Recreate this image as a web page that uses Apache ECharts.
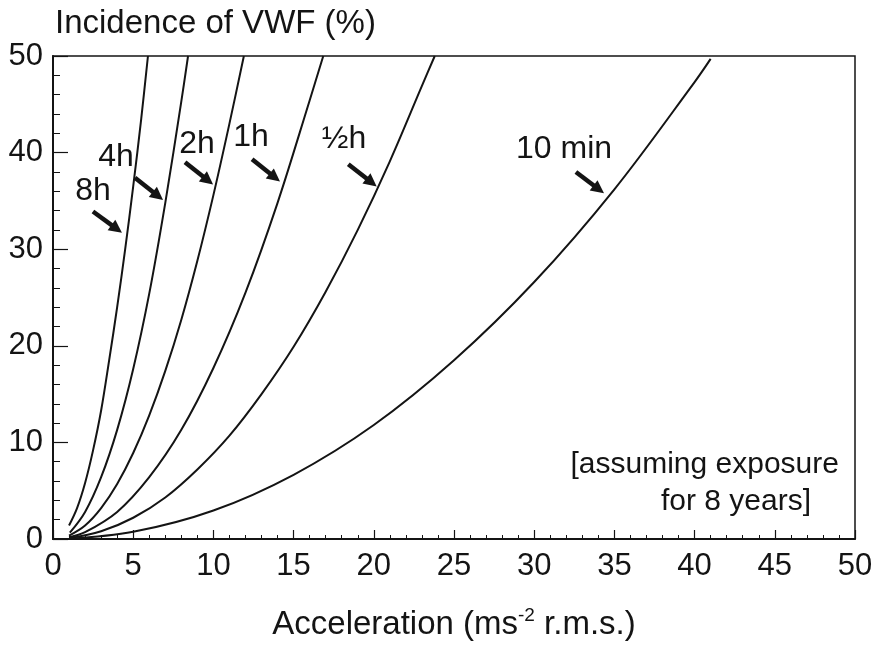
<!DOCTYPE html>
<html>
<head>
<meta charset="utf-8">
<script src="https://cdn.jsdelivr.net/npm/echarts@6/dist/echarts.min.js"></script>
<style>
  html, body { margin: 0; padding: 0; background: #ffffff; }
  #chart { width: 881px; height: 650px; }
</style>
</head>
<body>
<div id="chart"></div>
<script>
// Incidence of vibration white finger vs. frequency-weighted acceleration,
// one curve per daily exposure time (8 years of exposure).
const curveNames = ['8h', '4h', '2h', '1h', '½h', '10 min'];

const accel8h = [1, 1.5, 2, 2.5, 3, 3.5, 4, 4.5, 5, 5.5, 5.92];
const vwf8h   = [1.4, 3.2, 5.8, 9.2, 13.3, 18.5, 24, 30, 36.5, 43.5, 50];

const accel4h = [1.05, 2, 3, 4, 5, 6, 7, 8, 8.42];
const vwf4h   = [0.65, 2.8, 6.4, 11.3, 17.6, 25.4, 34.8, 45.3, 50];

const accel2h = [1, 2, 3, 4, 5, 6, 7, 8, 9, 10, 11, 11.9];
const vwf2h   = [0.35, 1.4, 3.2, 5.7, 8.9, 12.8, 17.4, 22.7, 28.8, 35.6, 43, 50];

const accel1h = [1, 2, 4, 6, 8, 10, 12, 14, 16, 16.85];
const vwf1h   = [0.18, 0.7, 2.8, 6.4, 11.3, 17.7, 25.5, 34.8, 45.4, 50];

const accelHalfH = [1, 3, 5, 7, 9, 11, 13, 15, 17, 19, 21, 23, 23.8];
const vwfHalfH   = [0.09, 0.8, 2.2, 4.3, 7.2, 10.7, 15, 19.9, 25.6, 32, 39.1, 46.9, 50];

const accel10min = [1, 5, 10, 15, 20, 25, 30, 35, 40, 41];
const vwf10min   = [0.03, 0.74, 2.95, 6.65, 11.8, 18.5, 26.6, 36.2, 47.3, 49.7];

// Curve label anchors (label centre) and arrow tail/tip, in axis units.
const labelAt   = [[2.49, 36.0], [3.93, 39.5], [8.98, 40.9], [12.34, 41.6], [18.14, 41.4], [31.86, 40.4]];
const arrowFrom = [[2.49, 33.9], [5.11, 37.4], [8.23, 39.0], [12.41, 39.3], [18.41, 38.8], [32.6, 38.0]];
const arrowTo   = [[4.30, 31.7], [6.86, 35.1], [9.98, 36.7], [14.15, 37.0], [20.18, 36.5], [34.35, 35.8]];

// Note lines, anchored at their right end.
const noteLines = ['[assuming exposure', 'for 8 years]'];
const noteAt    = [[49.0, 7.7], [47.26, 3.85]];

const xTicks = { min: 0, max: 50, step: 5 };
const yTicks = { min: 0, max: 50, step: 10 };

const FONT = "'Liberation Sans', Arial, Helvetica, sans-serif";
const INK = '#141414';

const pairs = (xs, ys) => xs.map((x, i) => [x, ys[i]]);
const curves = [
  pairs(accel8h, vwf8h),
  pairs(accel4h, vwf4h),
  pairs(accel2h, vwf2h),
  pairs(accel1h, vwf1h),
  pairs(accelHalfH, vwfHalfH),
  pairs(accel10min, vwf10min)
];

const chart = echarts.init(document.getElementById('chart'), null, { renderer: 'canvas' });

const option = {
  animation: false,
  backgroundColor: '#ffffff',
  title: {
    text: 'Incidence of VWF (%)',
    left: 50,
    top: 2,
    textStyle: { fontFamily: FONT, fontSize: 33, fontWeight: 'normal', color: INK }
  },
  grid: {
    left: 53, right: 26, top: 56, bottom: 111,
    show: true, borderColor: INK, borderWidth: 1.5, backgroundColor: 'transparent'
  },
  xAxis: {
    type: 'value',
    min: xTicks.min, max: xTicks.max, interval: xTicks.step,
    name: '{t|Acceleration (ms}{s|-2}{t| r.m.s.)}',
    nameLocation: 'middle',
    nameGap: 67,
    nameTextStyle: {
      rich: {
        t: { fontFamily: FONT, fontSize: 33, color: INK, lineHeight: 38 },
        s: { fontFamily: FONT, fontSize: 19, color: INK, verticalAlign: 'top', lineHeight: 38 }
      }
    },
    axisLine: { show: true, lineStyle: { color: INK, width: 2 } },
    axisTick: { show: true, inside: true, length: 9, lineStyle: { color: INK, width: 1.2 } },
    minorTick: { show: true, splitNumber: 5, length: 4, lineStyle: { color: INK, width: 1 } },
    splitLine: { show: false },
    minorSplitLine: { show: false },
    axisLabel: { fontFamily: FONT, fontSize: 31, color: INK, margin: 12 }
  },
  yAxis: {
    type: 'value',
    min: yTicks.min, max: yTicks.max, interval: yTicks.step,
    axisLine: { show: true, lineStyle: { color: INK, width: 2 } },
    axisTick: { show: true, inside: true, length: 15, lineStyle: { color: INK, width: 1.2 } },
    minorTick: { show: true, splitNumber: 5, length: 7, lineStyle: { color: INK, width: 1 } },
    splitLine: { show: false },
    minorSplitLine: { show: false },
    axisLabel: { fontFamily: FONT, fontSize: 31, color: INK, margin: 10, padding: [6, 0, 0, 0] }
  },
  series: curves.map((data, i) => ({
    name: curveNames[i],
    type: 'line',
    data: data,
    showSymbol: false,
    smooth: 0.35,
    silent: true,
    clip: true,
    lineStyle: { color: INK, width: 2 }
  }))
};

chart.setOption(option);

// Labels, arrows and the note are positioned through the axis scales.
function toPx(p) { return chart.convertToPixel({ gridIndex: 0 }, p); }

const graphics = [];
curveNames.forEach((name, i) => {
  const c = toPx(labelAt[i]);
  graphics.push({
    type: 'text', x: c[0], y: c[1], silent: true,
    style: { text: name, fontFamily: FONT, fontSize: 32, fill: INK, align: 'center', verticalAlign: 'middle' }
  });
  const a = toPx(arrowFrom[i]);
  const b = toPx(arrowTo[i]);
  const dx = b[0] - a[0], dy = b[1] - a[1];
  const len = Math.hypot(dx, dy);
  const ux = dx / len, uy = dy / len;
  const head = 13, half = 6.5;
  const bx = b[0] - ux * head, by = b[1] - uy * head;
  graphics.push({
    type: 'line', silent: true,
    shape: { x1: a[0], y1: a[1], x2: bx + ux * 1, y2: by + uy * 1 },
    style: { stroke: INK, lineWidth: 4.5 }
  });
  graphics.push({
    type: 'polygon', silent: true,
    shape: { points: [[b[0], b[1]], [bx - uy * half, by + ux * half], [bx + uy * half, by - ux * half]] },
    style: { fill: INK }
  });
});
noteLines.forEach((line, i) => {
  const c = toPx(noteAt[i]);
  graphics.push({
    type: 'text', x: c[0], y: c[1], silent: true,
    style: { text: line, fontFamily: FONT, fontSize: 30, fill: INK, align: 'right', verticalAlign: 'middle' }
  });
});

chart.setOption({ graphic: graphics });
</script>
</body>
</html>
